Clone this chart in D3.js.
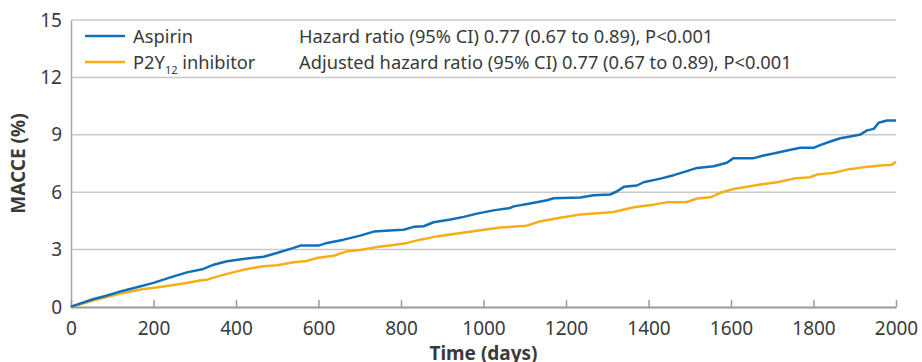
<!DOCTYPE html>
<html>
<head>
<meta charset="utf-8">
<script src="https://cdn.jsdelivr.net/npm/d3@7"></script>
<style>
  body { margin: 0; background: #fff; }
  svg { display: block; font-family: "Noto Sans", sans-serif; }
</style>
</head>
<body>
<div id="chart"></div>
<script>
// cumulative MACCE (%), [day, percent]
const aspirin = [
  [0, 0], [2, 0.03], [55, 0.42], [79, 0.55], [115, 0.78], [160, 1.03], [200, 1.26],
  [241, 1.55], [281, 1.81], [321, 1.99], [346, 2.21], [378, 2.39], [427, 2.54],
  [467, 2.63], [499, 2.82], [540, 3.09], [556, 3.21], [600, 3.21], [621, 3.35],
  [661, 3.52], [701, 3.73], [734, 3.94], [782, 4.01], [806, 4.04], [831, 4.19],
  [855, 4.22], [879, 4.43], [920, 4.57], [952, 4.71], [984, 4.88], [1024, 5.05],
  [1065, 5.18], [1073, 5.26], [1113, 5.41], [1154, 5.58], [1170, 5.68], [1235, 5.72],
  [1267, 5.84], [1307, 5.88], [1324, 6.05], [1340, 6.28], [1372, 6.35], [1388, 6.52],
  [1429, 6.71], [1461, 6.89], [1493, 7.10], [1518, 7.27], [1558, 7.36], [1590, 7.54],
  [1606, 7.78], [1655, 7.78], [1679, 7.92], [1703, 8.02], [1736, 8.18], [1768, 8.32],
  [1800, 8.32], [1816, 8.46], [1841, 8.65], [1865, 8.82], [1889, 8.91], [1914, 9.02],
  [1930, 9.23], [1946, 9.31], [1958, 9.63], [1978, 9.75], [2000, 9.75]
];

const p2y12 = [
  [0, 0], [55, 0.35], [120, 0.70], [176, 0.94], [216, 1.05], [265, 1.20], [313, 1.38],
  [330, 1.43], [362, 1.64], [402, 1.86], [427, 1.99], [467, 2.13], [499, 2.18],
  [540, 2.34], [572, 2.41], [596, 2.56], [637, 2.68], [669, 2.91], [701, 2.98],
  [742, 3.14], [782, 3.24], [815, 3.35], [847, 3.52], [887, 3.69], [928, 3.82],
  [984, 3.99], [1041, 4.15], [1105, 4.25], [1138, 4.48], [1186, 4.66], [1235, 4.83],
  [1315, 4.97], [1364, 5.21], [1412, 5.35], [1445, 5.47], [1493, 5.49], [1518, 5.67],
  [1550, 5.73], [1574, 5.97], [1606, 6.17], [1639, 6.28], [1671, 6.40], [1712, 6.52],
  [1752, 6.71], [1792, 6.78], [1808, 6.92], [1849, 7.01], [1881, 7.18], [1921, 7.30],
  [1962, 7.39], [1990, 7.44], [2000, 7.59]
];

const xTicks = [0, 200, 400, 600, 800, 1000, 1200, 1400, 1600, 1800, 2000];
const yTicks = [0, 3, 6, 9, 12, 15];
const statLines = [
  "Hazard ratio (95% CI) 0.77 (0.67 to 0.89), P<0.001",
  "Adjusted hazard ratio (95% CI) 0.77 (0.67 to 0.89), P<0.001"
];

const width = 922, height = 362;
const margin = {top: 20, right: 26, bottom: 55, left: 71};

const blue = "#106fb9", orange = "#f7ad1a";
const textColor = "#3a3a3a";

const svg = d3.select("#chart").append("svg")
  .attr("width", width)
  .attr("height", height);

const x = d3.scaleLinear().domain([0, 2000]).range([margin.left, width - margin.right]);
const y = d3.scaleLinear().domain([0, 15]).range([height - margin.bottom, margin.top]);

// gridlines
svg.append("g")
  .selectAll("line")
  .data(yTicks.filter(d => d > 0))
  .join("line")
    .attr("x1", x(0)).attr("x2", x(2000))
    .attr("y1", d => y(d)).attr("y2", d => y(d))
    .attr("stroke", "#c8c8c8")
    .attr("stroke-width", 1.5);

// y axis
const yAxis = svg.append("g")
  .attr("transform", `translate(${x(0)},0)`)
  .call(d3.axisLeft(y).tickValues(yTicks).tickSize(0).tickPadding(9));
yAxis.select(".domain").attr("stroke", "#a8a8a8").attr("stroke-width", 1.5);
yAxis.selectAll("text")
  .attr("fill", textColor)
  .style("font-size", "19px")
  .style("font-family", "Noto Sans, sans-serif");

// x axis, ticks pointing up
const xAxis = svg.append("g")
  .attr("transform", `translate(0,${y(0)})`)
  .call(d3.axisBottom(x).tickValues(xTicks).tickFormat(d3.format("d"))
    .tickSizeInner(-7).tickSizeOuter(0).tickPadding(15));
xAxis.select(".domain").attr("stroke", "#9a9a9a").attr("stroke-width", 2);
xAxis.selectAll(".tick line").attr("stroke", "#9a9a9a").attr("stroke-width", 1.5);
xAxis.selectAll("text")
  .attr("fill", textColor)
  .style("font-size", "19px")
  .style("font-family", "Noto Sans, sans-serif");

// axis titles
svg.append("text")
  .attr("transform", `translate(25,${(y(0) + y(15)) / 2}) rotate(-90)`)
  .attr("text-anchor", "middle")
  .attr("fill", textColor)
  .style("font-size", "19px")
  .style("font-weight", "bold")
  .text("MACCE (%)");

svg.append("text")
  .attr("x", (x(0) + x(2000)) / 2)
  .attr("y", 360)
  .attr("text-anchor", "middle")
  .attr("fill", textColor)
  .style("font-size", "19px")
  .style("font-weight", "bold")
  .text("Time (days)");

// curves
const line = d3.line()
  .x(d => x(d[0]))
  .y(d => y(d[1]));

svg.append("path")
  .datum(p2y12)
  .attr("fill", "none")
  .attr("stroke", orange)
  .attr("stroke-width", 2.5)
  .attr("stroke-linejoin", "round")
  .attr("d", line);

svg.append("path")
  .datum(aspirin)
  .attr("fill", "none")
  .attr("stroke", blue)
  .attr("stroke-width", 2.5)
  .attr("stroke-linejoin", "round")
  .attr("d", line);

// legend
const legend = svg.append("g").style("font-size", "18.3px").attr("fill", textColor);
const rows = [{color: blue, y: 36}, {color: orange, y: 62}];

legend.selectAll("line")
  .data(rows)
  .join("line")
    .attr("x1", 85).attr("x2", 125)
    .attr("y1", d => d.y).attr("y2", d => d.y)
    .attr("stroke", d => d.color)
    .attr("stroke-width", 2.5);

legend.append("text")
  .attr("x", 133).attr("y", 43)
  .text("Aspirin");

const p2 = legend.append("text").attr("x", 133).attr("y", 69);
p2.append("tspan").text("P2Y");
p2.append("tspan").attr("dy", 5).style("font-size", "11px").text("12");
p2.append("tspan").attr("dy", -5).text(" inhibitor");

legend.selectAll("text.stat")
  .data(statLines)
  .join("text")
    .attr("class", "stat")
    .attr("x", 299)
    .attr("y", (d, i) => 43 + i * 26)
    .text(d => d);
</script>
</body>
</html>
